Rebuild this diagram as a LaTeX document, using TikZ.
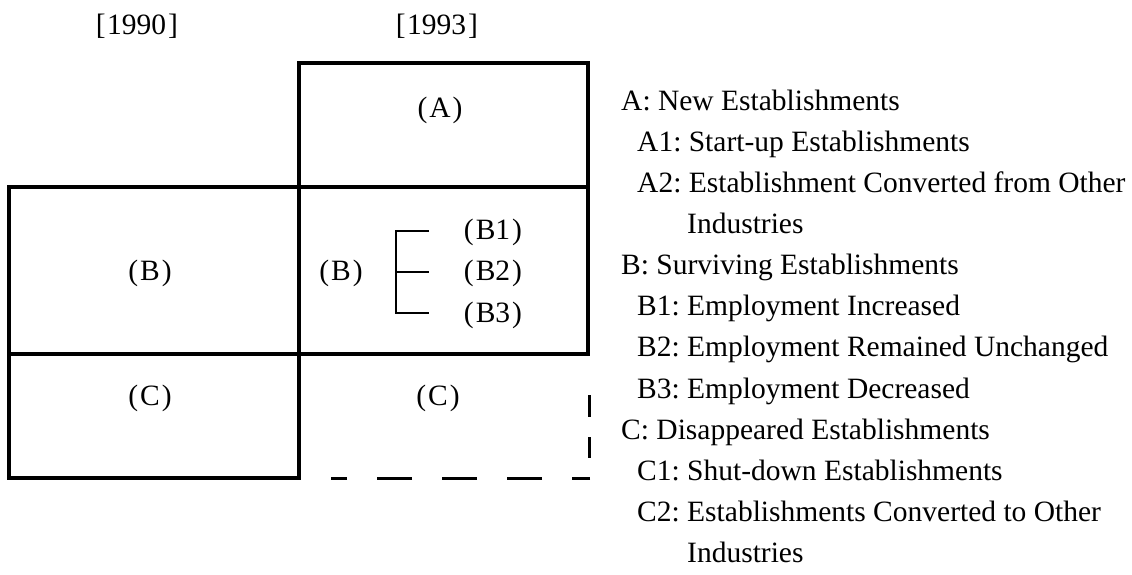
\documentclass[tikz,border=0pt]{standalone}
\usepackage{fontspec}
\setmainfont{Liberation Serif}
\frenchspacing
\begin{document}
\begin{tikzpicture}[x=1pt,y=-1pt,
  boxline/.style={line width=3.5pt,line cap=rect},
  brline/.style={line width=2.6pt},
  dashline/.style={line width=3pt},
  lbl/.style={inner sep=0pt,font=\fontsize{29.5}{35}\selectfont},
  item/.style={inner sep=0pt,anchor=west,text height=0.72em,text depth=0.22em,font=\fontsize{29.5}{35}\selectfont}]
\useasboundingbox (0,0) rectangle (1132,575);
% year labels
\node[lbl] (y90) at (137,26) {[\kern1.5pt1990\kern2pt]};
\node[lbl] (y93) at (437,26) {[\kern1.5pt1993\kern2pt]};
% frame
\draw[boxline] (299,478) -- (299,63) -- (588,63) -- (588,354);
\draw[boxline] (9,187) -- (588,187);
\draw[boxline] (9,354) -- (588,354);
\draw[boxline] (9,187) -- (9,478) -- (299,478);
% dashed part
\draw[dashline,dash pattern=on 22pt off 20pt] (589,395) -- (589,458);
\draw[dashline,dash pattern=on 35pt off 30pt,dash phase=17pt] (590,478) -- (331,478);
% cell labels
\node[lbl] (A) at (440,110) {(\kern2pt A\kern2pt)};
\node[lbl] (B0) at (150,273) {(\kern2pt B\kern2pt)};
\node[lbl] (C0) at (150,398) {(\kern2pt C\kern2pt)};
\node[lbl] (B) at (341,273) {(\kern2pt B\kern2pt)};
\node[lbl] (C) at (438,398) {(\kern2pt C\kern2pt)};
\node[lbl] (B1) at (493,232) {(\kern2pt B1\kern2pt)};
\node[lbl] (B2) at (493,273) {(\kern2pt B2\kern2pt)};
\node[lbl] (B3) at (493,315) {(\kern2pt B3\kern2pt)};
% bracket
\coordinate (bt) at (396,231);
\coordinate (bm) at (396,272);
\coordinate (bb) at (396,313);
\draw[brline] (429,231) -- (bt) -- (bb) -- (429,313);
\draw[brline] (bm) -- (429,272);
% legend
\node[item] (l0) at (621,108) {A: New Establishments};
\node[item] (l1) at (637,149) {A1: Start-up Establishments};
\node[item] (l2) at (637,190) {A2: Establishment Converted from Other};
\node[item] (l3) at (687,231) {Industries};
\node[item] (l4) at (621,272) {B: Surviving Establishments};
\node[item] (l5) at (637,313) {B1: Employment Increased};
\node[item] (l6) at (637,354) {B2: Employment Remained Unchanged};
\node[item] (l7) at (637,396) {B3: Employment Decreased};
\node[item] (l8) at (621,437) {C: Disappeared Establishments};
\node[item] (l9) at (637,478) {C1: Shut-down Establishments};
\node[item] (l10) at (637,519) {C2: Establishments Converted to Other};
\node[item] (l11) at (687,560) {Industries};
\end{tikzpicture}
\end{document}
